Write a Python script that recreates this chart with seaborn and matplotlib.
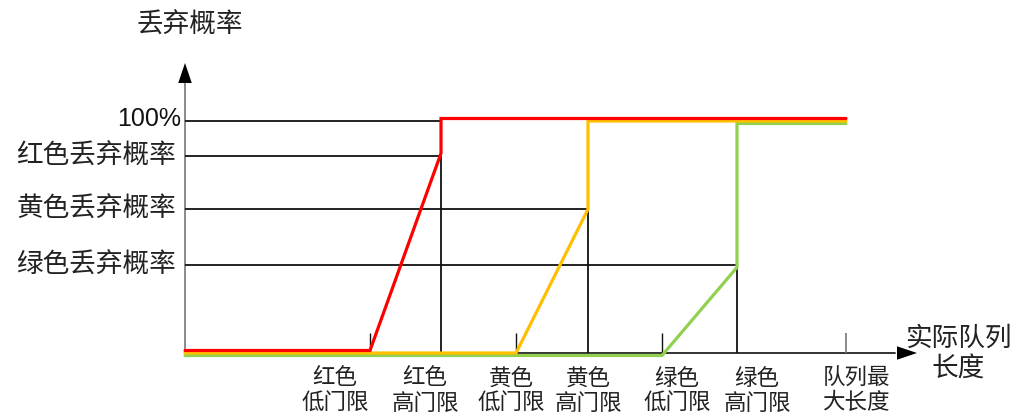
import matplotlib
matplotlib.use("Agg")
import matplotlib.pyplot as plt
import matplotlib.transforms as mtransforms
from matplotlib.colors import to_hex
import seaborn as sns
import pandas as pd

# WRED thresholds (queue length units) and max drop probabilities per colour
colour_names = ["红色", "黄色", "绿色"]
low_threshold = [18.5, 33.1, 47.7]
high_threshold = [25.6, 40.3, 55.2]
max_drop_prob = [0.85, 0.62, 0.38]
queue_max = 66.1
full_drop = 1.0

y_labels = ["100%", "红色丢弃概率", "黄色丢弃概率", "绿色丢弃概率"]
x_labels = [("红色", "低门限"), ("红色", "高门限"), ("黄色", "低门限"), ("黄色", "高门限"),
            ("绿色", "低门限"), ("绿色", "高门限"), ("队列最", "大长度")]
x_label_pos = [15.0, 24.0, 32.6, 40.3, 49.2, 57.2, 67.1]

palette = {"红色": "#FF0000", "黄色": "#FFC000", "绿色": "#92D050"}
line_shift = {"红色": 2.5, "黄色": 0.0, "绿色": -2.5}
line_z = {"红色": 5, "黄色": 4, "绿色": 3}

sns.set_theme(style="white")
plt.rcParams["font.family"] = ["Noto Sans CJK SC", "DejaVu Sans"]

W, H = 1022, 416
fig = plt.figure(figsize=(W / 100, H / 100), dpi=100)
ax = fig.add_axes([185 / W, (H - 353) / H, (917 - 185) / W, (353 - 63) / H])
ax.set_xlim(0, 73.2)
ax.set_ylim(0, 1.25)
ax.axis("off")

# drop-probability curves
rows = []
for name, lo, hi, p in zip(colour_names, low_threshold, high_threshold, max_drop_prob):
    xs = [0, lo, hi, hi, queue_max]
    ys = [0, 0, p, full_drop, full_drop]
    for i, (x, y) in enumerate(zip(xs, ys)):
        rows.append({"颜色": name, "队列长度": x, "丢弃概率": y, "step": i})
df = pd.DataFrame(rows)

sns.lineplot(data=df, x="队列长度", y="丢弃概率", hue="颜色", hue_order=["绿色", "黄色", "红色"],
             palette=palette, sort=False, estimator=None, legend=False, lw=2.3, ax=ax,
             solid_joinstyle="miter")
hex_to_name = {to_hex(c): n for n, c in palette.items()}
for ln in ax.lines:
    name = hex_to_name.get(to_hex(ln.get_color()))
    if name is None:
        continue
    ln.set_transform(mtransforms.offset_copy(ax.transData, fig=fig, x=0, y=line_shift[name], units="dots"))
    ln.set_zorder(line_z[name])
    ln.set_clip_on(False)

# reference lines
ref_kw = dict(color="#111111", lw=1.3, zorder=2)
ax.hlines(full_drop, 0, high_threshold[0], **ref_kw)
for hi, p in zip(high_threshold, max_drop_prob):
    ax.hlines(p, 0, hi, **ref_kw)
    ax.vlines(hi, 0, p, **ref_kw)
for lo in low_threshold:
    ax.vlines(lo, 0, 0.085, color="#111111", lw=1.0, zorder=2)
ax.vlines(queue_max, 0, 0.085, color="#777777", lw=1.2, zorder=2)

# axes with arrows
ax.plot([0, 0], [0, 1.17], color="#808080", lw=1.3, clip_on=False, zorder=1)
ax.plot([0, 71], [0, 0], color="#222222", lw=1.3, clip_on=False, zorder=1)
arrow = dict(arrowstyle="-|>,head_length=0.8,head_width=0.27", color="black", lw=0,
             mutation_scale=18, shrinkA=0, shrinkB=0)
ax.annotate("", xy=(0, 1.25), xytext=(0, 1.16), arrowprops=arrow, annotation_clip=False)
ax.annotate("", xy=(73.2, 0), xytext=(71.0, 0), arrowprops=arrow, annotation_clip=False)

# y labels
y_vals = [full_drop] + max_drop_prob
for lab, yv in zip(y_labels, y_vals):
    if lab.endswith("%"):
        ax.text(-0.4, yv + 0.01, lab, ha="right", va="center", fontsize=18,
                family=["Liberation Sans", "DejaVu Sans"], color="#111111")
    else:
        ax.text(-0.9, yv, lab, ha="right", va="center", fontsize=19.2, color="#222222")

# x labels (two lines each)
to_data_y = lambda py: (353 - py) / 232
for (l1, l2), xp in zip(x_labels, x_label_pos):
    ax.text(xp, to_data_y(378), l1, ha="center", va="center", fontsize=16.2, color="#222222", clip_on=False)
    ax.text(xp, to_data_y(403), l2, ha="center", va="center", fontsize=16.2, color="#222222", clip_on=False)

# axis titles
fig.text(190 / W, 1 - 25 / H, "丢弃概率", ha="center", va="center", fontsize=19.2, color="#222222")
fig.text(958 / W, 1 - 338 / H, "实际队列", ha="center", va="center", fontsize=19.2, color="#222222")
fig.text(958 / W, 1 - 369 / H, "长度", ha="center", va="center", fontsize=19.2, color="#222222")

fig.savefig("out.png", dpi=100)
